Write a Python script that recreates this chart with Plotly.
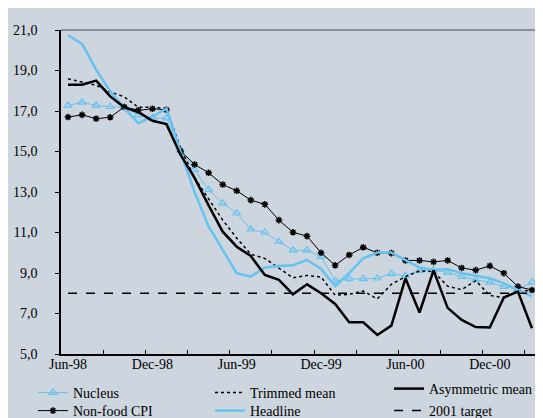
import plotly.graph_objects as go

months = ["Jun-98", "Jul-98", "Aug-98", "Sep-98", "Oct-98", "Nov-98", "Dec-98",
          "Jan-99", "Feb-99", "Mar-99", "Apr-99", "May-99", "Jun-99", "Jul-99",
          "Aug-99", "Sep-99", "Oct-99", "Nov-99", "Dec-99", "Jan-00", "Feb-00",
          "Mar-00", "Apr-00", "May-00", "Jun-00", "Jul-00", "Aug-00", "Sep-00",
          "Oct-00", "Nov-00", "Dec-00", "Jan-01", "Feb-01", "Mar-01"]

nucleus = [17.27, 17.43, 17.27, 17.21, 17.18, 16.80, 16.65, 16.65, 15.05, 14.10,
           13.11, 12.45, 11.95, 11.16, 11.00, 10.55, 10.12, 10.12, 9.81, 8.61,
           8.71, 8.71, 8.74, 8.96, 8.87, 9.12, 9.15, 9.02, 8.82, 8.66,
           8.54, 8.33, 8.21, 8.54]
trimmed = [18.59, 18.43, 18.27, 17.94, 17.70, 17.18, 17.18, 17.12, 15.17, 13.70,
           12.65, 11.62, 10.72, 9.93, 9.72, 9.24, 8.76, 8.88, 8.80, 7.90,
           7.95, 8.11, 7.72, 8.44, 8.82, 9.10, 9.07, 8.35, 8.18, 8.62,
           7.89, 7.78, 8.13, 8.12]
asymmetric = [18.30, 18.30, 18.50, 17.72, 17.18, 16.95, 16.52, 16.35, 14.84, 13.70,
              12.34, 11.04, 10.30, 9.84, 8.90, 8.66, 7.95, 8.44, 8.00, 7.47,
              6.57, 6.57, 5.94, 6.40, 8.74, 7.05, 9.13, 7.28, 6.68, 6.33,
              6.31, 7.79, 8.08, 6.27]
nonfood = [16.70, 16.81, 16.62, 16.69, 17.20, 17.03, 17.11, 17.06, 15.03, 14.36,
           13.95, 13.37, 13.06, 12.60, 12.39, 11.61, 11.01, 10.82, 10.00, 9.38,
           9.89, 10.27, 10.00, 9.98, 9.62, 9.62, 9.55, 9.62, 9.25, 9.14,
           9.35, 8.99, 8.33, 8.16]
headline = [20.74, 20.31, 19.04, 17.97, 17.15, 16.40, 16.73, 17.12, 15.00, 13.00,
            11.30, 10.14, 8.99, 8.82, 9.27, 9.35, 9.38, 9.65, 9.20, 8.35,
            9.00, 9.73, 10.01, 10.01, 9.65, 9.27, 9.16, 9.19, 8.99, 8.86,
            8.74, 8.49, 8.16, 7.84]
target = [8.0] * len(months)

ytick_vals = [5, 7, 9, 11, 13, 15, 17, 19, 21]

BG = "#cdd5de"
BLUE = "#66c3ef"
FONT = "Liberation Serif"

x = list(range(len(months)))
fig = go.Figure()

fig.add_trace(go.Scatter(x=x, y=nucleus, name="Nucleus", mode="lines+markers",
                         line=dict(color=BLUE, width=1),
                         marker=dict(symbol="triangle-up-open", size=7, color=BLUE,
                                     line=dict(width=1.2, color=BLUE)),
                         legend="legend"))
fig.add_trace(go.Scatter(x=x, y=nonfood, name="Non-food CPI", mode="lines+markers",
                         line=dict(color="black", width=1),
                         marker=dict(symbol="asterisk-open", size=5.5, color="black",
                                     line=dict(width=1.5, color="black")),
                         legend="legend4"))
fig.add_trace(go.Scatter(x=x, y=trimmed, name="Trimmed mean", mode="lines",
                         line=dict(color="black", width=1.5, dash="dot"),
                         legend="legend2"))
fig.add_trace(go.Scatter(x=x, y=headline, name="Headline", mode="lines",
                         line=dict(color=BLUE, width=2.5),
                         legend="legend5"))
fig.add_trace(go.Scatter(x=x, y=asymmetric, name="Asymmetric mean", mode="lines",
                         line=dict(color="black", width=2.5),
                         legend="legend3"))
fig.add_trace(go.Scatter(x=x, y=target, name="2001 target", mode="lines",
                         line=dict(color="black", width=1.5, dash="dash"),
                         legend="legend6"))

# plot area spans 53..531 px horizontally and 22..346 px vertically
pw, ph = 543 - 53 - 12, 418 - 22 - 72


def px_x(p):
    return (p - 53) / pw


def px_y(p):
    return (346 - p) / ph


leg = dict(xanchor="left", yanchor="middle",
           bgcolor="rgba(0,0,0,0)", borderwidth=0,
           font=dict(family=FONT, size=14, color="black"),
           tracegroupgap=0, itemwidth=30)

fig.update_layout(
    width=543, height=418,
    paper_bgcolor=BG, plot_bgcolor=BG,
    margin=dict(l=53, r=12, t=22, b=72, autoexpand=False),
    separators=",.",
    font=dict(family=FONT, size=14, color="black"),
    showlegend=True,
    legend=dict(leg, x=px_x(25), y=px_y(385)),
    legend2=dict(leg, x=px_x(202), y=px_y(385)),
    legend3=dict(leg, x=px_x(381), y=px_y(381)),
    legend4=dict(leg, x=px_x(25), y=px_y(403)),
    legend5=dict(leg, x=px_x(202), y=px_y(403)),
    legend6=dict(leg, x=px_x(381), y=px_y(403)),
    xaxis=dict(
        range=[-0.5, len(months) - 0.5],
        tickmode="array",
        tickvals=x[::6], ticktext=months[::6],
        ticks="", ticklabelstandoff=-4,
        showgrid=False, zeroline=False,
        showline=True, linecolor="black", linewidth=1.5,
        minor=dict(tickmode="array",
                   tickvals=[i - 0.5 for i in range(3, len(months), 3)],
                   ticks="inside", ticklen=4, tickcolor="black", tickwidth=1,
                   showgrid=False),
        tickfont=dict(family=FONT, size=14, color="black"),
    ),
    yaxis=dict(
        range=[5, 21],
        tickmode="array", tickvals=ytick_vals,
        tickformat=".1f",
        ticks="outside", ticklen=4, tickcolor="black",
        ticklabelstandoff=15,
        showgrid=False, zeroline=False,
        showline=True, linecolor="black", linewidth=1.5,
        tickfont=dict(family=FONT, size=14, color="black"),
    ),
    shapes=[dict(type="line", xref="paper", yref="paper", x0=0, x1=1, y0=1, y1=1,
                 line=dict(color="#6e767e", width=1.5)),
            dict(type="line", xref="paper", yref="paper", x0=1, x1=1, y0=0, y1=1,
                 line=dict(color="black", width=1.5))],
)

fig.write_html("out.html")
